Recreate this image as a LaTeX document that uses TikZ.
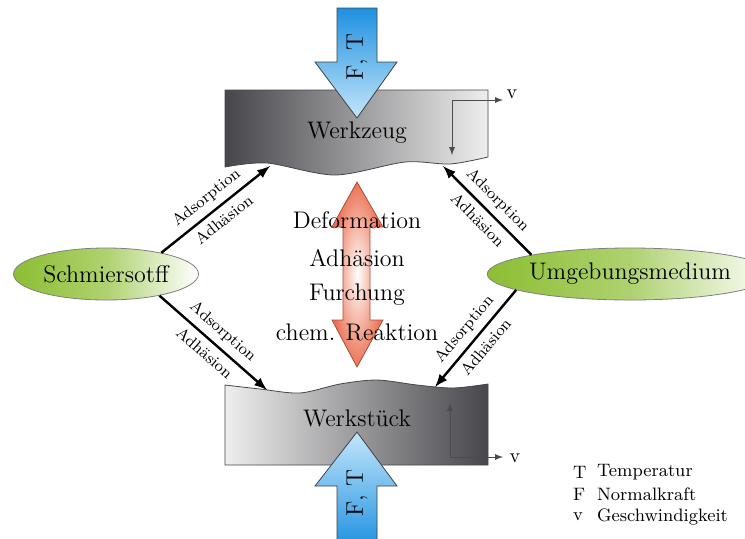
\documentclass[tikz,border=0pt]{standalone}
\usepackage{tikz}
\usepackage{amsmath}
\usetikzlibrary{arrows}
\usetikzlibrary{shapes}

\definecolor{boxdark}{RGB}{70,70,75}
\definecolor{boxlight}{RGB}{238,238,238}
\definecolor{ftblue}{RGB}{30,145,225}
\definecolor{ftlight}{RGB}{195,230,250}
\definecolor{blobgreen}{RGB}{140,190,50}
\definecolor{reibred}{RGB}{235,115,85}

\begin{document}
\begin{tikzpicture}[x=0.5pt,y=-0.5pt,
  every node/.style={font=\large},
  blob/.style={draw=gray,ellipse,minimum height=13pt*2,inner sep=0pt},
  conn/.style={-latex, very thick},
  lbl/.style={font=\footnotesize, sloped, inner sep=3pt},
  vline/.style={-latex, gray!60!black}]
\useasboundingbox (0,0) rectangle (745,538);

% Werkzeug und Werkstueck
\draw[boxdark, left color=boxdark, right color=boxlight] (225,90) -- (488,90) -- (488,157)
  -- plot[smooth] coordinates {(488,157) (450,164) (405,162) (335,175) (267,163) (225,167)} -- cycle;
\draw[boxdark, left color=boxlight, right color=boxdark] (225,465) -- (488,465) -- (488,384)
  -- plot[smooth] coordinates {(488,384) (453,388) (417,385) (377,380) (340,384) (300,393) (260,389) (225,385)} -- cycle;

% F, T Pfeile
\draw[gray!50!black, top color=ftblue, bottom color=ftlight] (337,8) -- (377,8) -- (377,62) -- (397,62)
  -- (357,118) -- (315,62) -- (337,62) -- cycle;
\draw[gray!50!black, top color=ftlight, bottom color=ftblue] (337,548) -- (377,548) -- (377,486) -- (397,486)
  -- (357,432) -- (315,486) -- (337,486) -- cycle;
\node[rotate=90] (ft1) at (357,57) {F, T};
\node[rotate=90] (ft2) at (357,493) {F, T};

% Doppelpfeil
\draw[reibred!70!black, inner color=white, outer color=reibred] (343,227) -- (332,227) -- (357,182) -- (383,227)
  -- (370,227) -- (370,320) -- (383,320) -- (357,367) -- (332,320) -- (343,320) -- cycle;

\node (wz) at (357,133) {Werkzeug};
\node (ws) at (357,418) {Werkst\"uck};
\node (m1) at (357,220) {Deformation};
\node (m2) at (357,258) {Adh\"asion};
\node (m3) at (357,295) {Furchung};
\node (m4) at (357,332) {chem. Reaktion};

% v
\coordinate (v1) at (452,100);
\coordinate (v2) at (450,457);
\draw[vline] (v1) -- (452,155);
\draw[vline] (v1) -- (503,100);
\draw[vline] (v2) -- (450,403);
\draw[vline] (v2) -- (503,457);
\node (v1l) at (512,94) {\normalsize v};
\node (v2l) at (515,458) {\normalsize v};

% Ellipsen
\node[blob, minimum width=92.5pt, left color=blobgreen, right color=white, middle color=blobgreen!70] (schmier) at (106,274) {Schmiersotff};
\node[blob, minimum width=115pt, left color=blobgreen, right color=white, middle color=blobgreen!70] (umgeb) at (630,274) {Umgebungsmedium};

\coordinate (wz1) at (270,166);
\coordinate (wz2) at (443,166);
\coordinate (ws1) at (267,390);
\coordinate (ws2) at (435,387);

\draw[conn] (schmier.21) to node[lbl, above]{Adsorption} node[lbl, below]{Adh\"asion} (wz1);
\draw[conn] (schmier.-22) to node[lbl, above]{Adsorption} node[lbl, below]{Adh\"asion} (ws1);
\draw[conn] (umgeb.169) to node[lbl, above]{Adsorption} node[lbl, below]{Adh\"asion} (wz2);
\draw[conn] (umgeb.-172) to node[lbl, above]{Adsorption} node[lbl, below]{Adh\"asion} (ws2);

% Legende
\node[anchor=west, font=\small] (lt) at (566,472) {T};
\node[anchor=west, font=\small] (ltt) at (590,472) {Temperatur};
\node[anchor=west, font=\small] (lf) at (566,494) {F};
\node[anchor=west, font=\small] (lft) at (590,494) {Normalkraft};
\node[anchor=west, font=\small] (lv) at (566,517) {v};
\node[anchor=west, font=\small] (lvt) at (590,517) {Geschwindigkeit};
\end{tikzpicture}
\end{document}
